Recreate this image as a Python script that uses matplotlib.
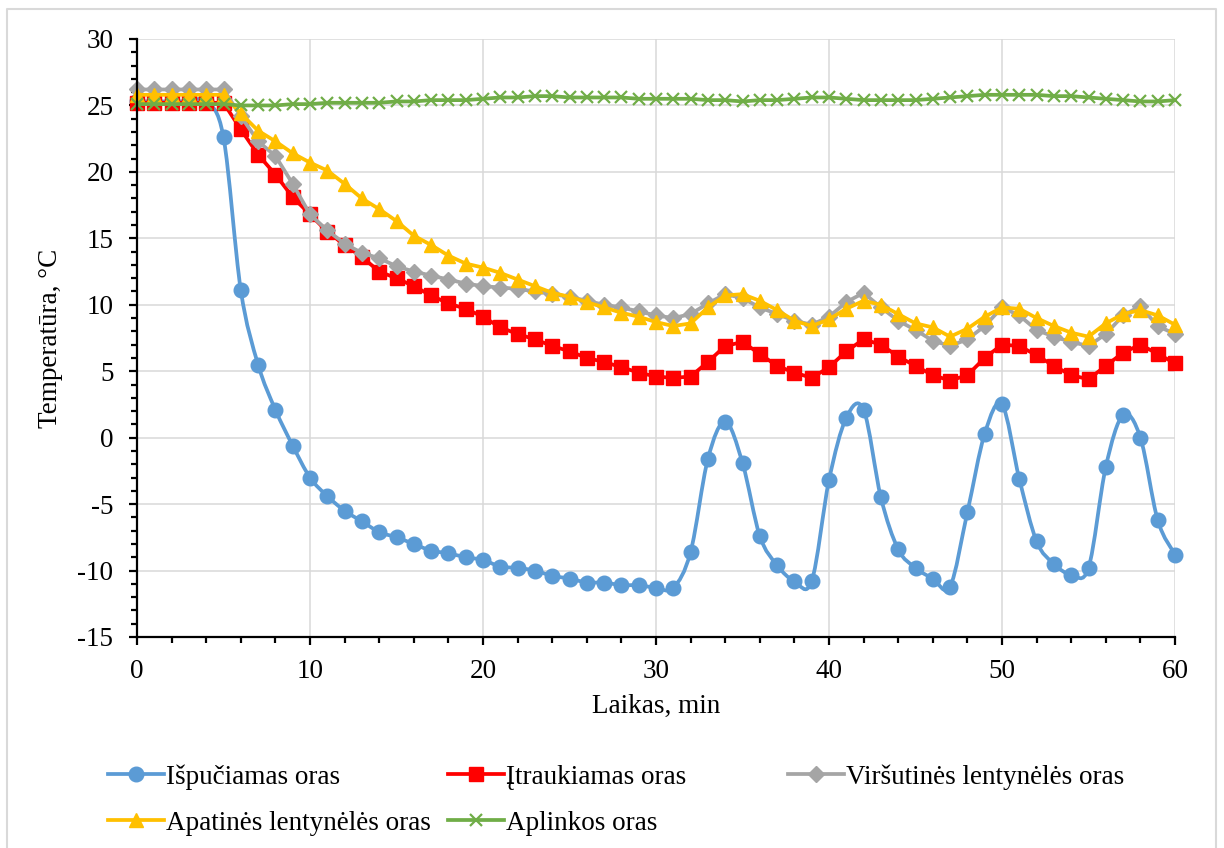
import matplotlib
matplotlib.use("Agg")
import matplotlib.pyplot as plt
import numpy as np
from matplotlib.path import Path
from matplotlib.patches import PathPatch
from matplotlib.lines import Line2D
from matplotlib.ticker import MultipleLocator

plt.rcParams['font.family'] = ['Liberation Serif', 'DejaVu Serif']
plt.rcParams['axes.unicode_minus'] = False

minutes = np.arange(0, 61)

ispuciamas = [25.3, 25.3, 25.3, 25.3, 25.3, 22.6, 11.1, 5.5, 2.1, -0.6,
              -3.0, -4.4, -5.5, -6.3, -7.1, -7.5, -8.0, -8.5, -8.7, -9.0,
              -9.2, -9.7, -9.8, -10.0, -10.4, -10.6, -10.9, -10.9, -11.1, -11.1,
              -11.3, -11.3, -8.6, -1.6, 1.2, -1.9, -7.4, -9.6, -10.8, -10.8,
              -3.2, 1.5, 2.1, -4.5, -8.4, -9.8, -10.6, -11.2, -5.6, 0.3,
              2.5, -3.1, -7.8, -9.5, -10.3, -9.8, -2.2, 1.7, 0.0, -6.2,
              -8.8]
itraukiamas = [25.2, 25.2, 25.2, 25.2, 25.2, 25.2, 23.2, 21.3, 19.8, 18.1,
               16.8, 15.5, 14.5, 13.6, 12.5, 12.0, 11.4, 10.7, 10.1, 9.7,
               9.1, 8.3, 7.8, 7.4, 6.9, 6.5, 6.0, 5.7, 5.3, 4.9,
               4.6, 4.5, 4.6, 5.7, 6.9, 7.2, 6.3, 5.4, 4.9, 4.5,
               5.3, 6.5, 7.4, 7.0, 6.1, 5.4, 4.7, 4.3, 4.7, 6.0,
               7.0, 6.9, 6.2, 5.4, 4.7, 4.4, 5.4, 6.4, 7.0, 6.3,
               5.6]
virsutines = [26.2, 26.2, 26.2, 26.2, 26.2, 26.2, 24.2, 22.3, 21.2, 19.1,
              16.8, 15.6, 14.6, 13.9, 13.5, 12.9, 12.5, 12.2, 11.9, 11.6,
              11.4, 11.3, 11.2, 11.0, 10.8, 10.6, 10.3, 10.0, 9.8, 9.5,
              9.2, 9.0, 9.3, 10.1, 10.8, 10.5, 9.8, 9.3, 8.8, 8.5,
              9.1, 10.2, 10.9, 9.8, 8.8, 8.1, 7.3, 6.9, 7.4, 8.4,
              9.8, 9.2, 8.1, 7.6, 7.2, 6.9, 7.8, 9.2, 9.9, 8.4,
              7.8]
apatines = [25.8, 25.8, 25.8, 25.8, 25.8, 25.8, 24.4, 23.1, 22.3, 21.4,
            20.7, 20.1, 19.1, 18.0, 17.2, 16.3, 15.2, 14.5, 13.7, 13.1,
            12.8, 12.4, 11.9, 11.4, 10.9, 10.6, 10.2, 9.8, 9.4, 9.1,
            8.7, 8.4, 8.6, 9.8, 10.7, 10.8, 10.3, 9.6, 8.8, 8.4,
            8.9, 9.7, 10.3, 10.0, 9.3, 8.6, 8.3, 7.6, 8.2, 9.1,
            9.8, 9.7, 9.0, 8.4, 7.9, 7.6, 8.6, 9.3, 9.6, 9.2,
            8.5]
aplinkos = [25.1, 25.1, 25.1, 25.1, 25.1, 25.1, 25.0, 25.0, 25.0, 25.1,
            25.1, 25.2, 25.2, 25.2, 25.2, 25.3, 25.3, 25.4, 25.4, 25.4,
            25.5, 25.6, 25.6, 25.7, 25.7, 25.6, 25.6, 25.6, 25.6, 25.5,
            25.5, 25.5, 25.5, 25.4, 25.4, 25.3, 25.4, 25.4, 25.5, 25.6,
            25.6, 25.5, 25.4, 25.4, 25.4, 25.4, 25.5, 25.6, 25.7, 25.8,
            25.8, 25.8, 25.8, 25.7, 25.7, 25.6, 25.5, 25.4, 25.3, 25.3,
            25.4]

labels = ["Išpučiamas oras", "Įtraukiamas oras", "Viršutinės lentynėlės oras",
          "Apatinės lentynėlės oras", "Aplinkos oras"]
colors = ["#5B9BD5", "#FF0000", "#A5A5A5", "#FFC000", "#70AD47"]


def smooth_path(x, y):
    # Excel-like smoothed line: cubic bezier through the points
    x = np.asarray(x, float)
    y = np.asarray(y, float)
    n = len(x)
    verts = [(x[0], y[0])]
    codes = [Path.MOVETO]
    for i in range(n - 1):
        i0 = max(i - 1, 0)
        i3 = min(i + 2, n - 1)
        c1 = (x[i] + (x[i + 1] - x[i0]) / 6, y[i] + (y[i + 1] - y[i0]) / 6)
        c2 = (x[i + 1] - (x[i3] - x[i]) / 6, y[i + 1] - (y[i3] - y[i]) / 6)
        verts += [c1, c2, (x[i + 1], y[i + 1])]
        codes += [Path.CURVE4] * 3
    return Path(verts, codes)


W, H = 1224, 848
FS = 19.5
fig = plt.figure(figsize=(W / 100, H / 100), dpi=100)
ax = fig.add_axes([137 / W, 1 - 637 / H, (1175 - 137) / W, (637 - 39) / H])

# series
ax.add_patch(PathPatch(smooth_path(minutes, ispuciamas), fill=False,
                       edgecolor=colors[0], lw=2.7, zorder=3, clip_on=False))
ax.plot(minutes, ispuciamas, ls='none', marker='o', ms=10.5, color=colors[0],
        zorder=3, clip_on=False)
ax.plot(minutes, itraukiamas, color=colors[1], lw=2.7, marker='s', ms=10,
        zorder=4, clip_on=False)
ax.plot(minutes, virsutines, color=colors[2], lw=2.7, marker='D', ms=8.5,
        zorder=5, clip_on=False)
ax.plot(minutes, apatines, color=colors[3], lw=2.7, marker='^', ms=10.5,
        zorder=6, clip_on=False)
ax.plot(minutes, aplinkos, color=colors[4], lw=2.7, marker='x', ms=9, mew=1.6,
        zorder=7, clip_on=False)

ax.set_xlim(0, 60)
ax.set_ylim(-15, 30)
ax.xaxis.set_major_locator(MultipleLocator(10))
ax.xaxis.set_minor_locator(MultipleLocator(2))
ax.yaxis.set_major_locator(MultipleLocator(5))
ax.yaxis.set_minor_locator(MultipleLocator(1))
ax.grid(True, which='major', color='#D9D9D9', lw=1.1, zorder=0)
ax.set_axisbelow(True)

for s in ['top', 'right']:
    ax.spines[s].set_visible(False)
for s in ['left', 'bottom']:
    ax.spines[s].set_linewidth(1.6)
    ax.spines[s].set_zorder(8)

ax.tick_params(which='major', direction='out', length=6, width=1.6,
               labelsize=FS)
ax.tick_params(which='minor', direction='out', length=4, width=1.6)
ax.tick_params(axis='y', which='major', pad=11)
ax.tick_params(axis='x', which='major', pad=10)

ax.set_xlabel("Laikas, min", fontsize=FS, labelpad=7)
ax.set_ylabel("Temperatūra, °C", fontsize=FS, labelpad=10)

# legend, laid out like Excel (fixed columns)
handles = [
    Line2D([], [], color=colors[0], lw=2.7, marker='o', ms=10.5),
    Line2D([], [], color=colors[1], lw=2.7, marker='s', ms=10),
    Line2D([], [], color=colors[2], lw=2.7, marker='D', ms=8.5),
    Line2D([], [], color=colors[3], lw=2.7, marker='^', ms=10.5),
    Line2D([], [], color=colors[4], lw=2.7, marker='x', ms=9, mew=1.6),
]
spots = [(108, 777), (448, 777), (788, 777), (108, 823), (448, 823)]
for h, lab, (px, py) in zip(handles, labels, spots):
    fig.legend([h], [lab], loc='center left', bbox_to_anchor=(px / W, 1 - py / H),
               frameon=False, fontsize=FS, handlelength=2.05, handletextpad=0.1,
               borderpad=0, borderaxespad=0)

# chart border (light gray, open at the bottom)
fig.add_artist(Line2D([7 / W, 7 / W, 1216 / W, 1216 / W],
                      [0, 1 - 9 / H, 1 - 9 / H, 0],
                      transform=fig.transFigure, color='#D9D9D9', lw=1.5))

fig.savefig("out.png", dpi=100)
